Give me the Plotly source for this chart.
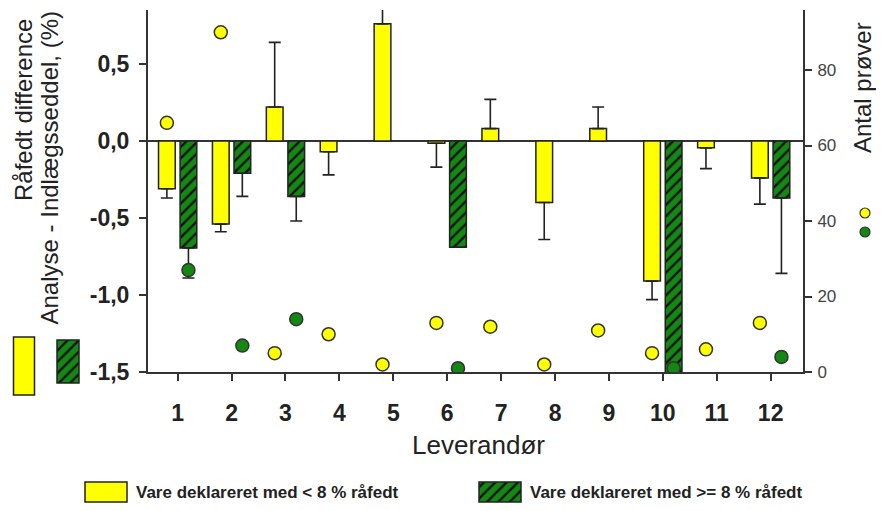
import plotly.graph_objects as go

# ---------------- data ----------------
leverandor = [1, 2, 3, 4, 5, 6, 7, 8, 9, 10, 11, 12]
tick_labels = ["1", "2", "3", "4", "5", "6", "7", "8", "9", "10", "11", "12"]

# Råfedt difference (Analyse - Indlægsseddel), %
diff_lav = [-0.31, -0.54, 0.22, -0.07, 0.76, -0.015, 0.08, -0.40, 0.08, -0.91, -0.045, -0.24]
err_lav = [0.06, 0.05, 0.42, 0.15, 0.25, 0.155, 0.19, 0.24, 0.14, 0.12, 0.135, 0.17]
diff_hoj = [-0.695, -0.21, -0.36, None, None, -0.69, None, None, None, -1.6, None, -0.37]
err_hoj = [0.195, 0.15, 0.16, None, None, 0.0, None, None, None, 0.0, None, 0.49]

# Antal prøver
n_lav = [66, 90, 5, 10, 2, 13, 12, 2, 11, 5, 6, 13]
n_hoj = [27, 7, 14, None, None, 1, None, None, None, 1, None, 4]

yticks_left = [-1.5, -1.0, -0.5, 0.0, 0.5]
yticks_left_text = ["-1,5", "-1,0", "-0,5", "0,0", "0,5"]
yticks_right = [0, 20, 40, 60, 80]

name_lav = "Vare deklareret med < 8 % råfedt"
name_hoj = "Vare deklareret med >= 8 % råfedt"

# ---------------- style ----------------
PAGE_W, PAGE_H = 884, 511
BODY_MARGIN = 8                      # default <body> margin of the html page
W, H = PAGE_W - 2 * BODY_MARGIN, PAGE_H - 2 * BODY_MARGIN


def clamp(v):
    return max(0.0, min(1.0, v))


def px(x):   # page pixel x -> paper fraction
    return (x - BODY_MARGIN) / W


def py(y):   # page pixel y -> paper fraction
    return 1 - (y - BODY_MARGIN) / H


YELLOW = "#FFFF00"
GREEN = "#138913"
EDGE = "#222222"
HATCH = "#111111"
FONT = "Liberation Sans, Arial, sans-serif"
OFFS = 0.2  # half distance between grouped bar centers (category units)


def up_down(vals, errs):
    up, down = [], []
    for v, e in zip(vals, errs):
        if v is None or e is None:
            up.append(None); down.append(None)
        elif v >= 0:
            up.append(e); down.append(0)
        else:
            up.append(0); down.append(e)
    return up, down


lav_up, lav_down = up_down(diff_lav, err_lav)
hoj_up, hoj_down = up_down(diff_hoj, err_hoj)

hatch = dict(shape="/", fgcolor=HATCH, bgcolor=GREEN, size=8, solidity=0.3, fillmode="replace")

fig = go.Figure()

fig.add_trace(go.Bar(
    x=leverandor, y=diff_lav, name=name_lav,
    marker=dict(color=YELLOW, line=dict(color=EDGE, width=1.5)),
    error_y=dict(type="data", symmetric=False, array=lav_up, arrayminus=lav_down,
                 color=EDGE, thickness=1.6, width=6),
    xaxis="x", yaxis="y", showlegend=False,
))
fig.add_trace(go.Bar(
    x=leverandor, y=diff_hoj, name=name_hoj,
    marker=dict(color=GREEN, line=dict(color=EDGE, width=1.5), pattern=hatch),
    error_y=dict(type="data", symmetric=False, array=hoj_up, arrayminus=hoj_down,
                 color=EDGE, thickness=1.6, width=6),
    xaxis="x", yaxis="y", showlegend=False,
))

fig.add_trace(go.Scatter(
    x=[v - OFFS for v in leverandor], y=n_lav, mode="markers",
    marker=dict(color=YELLOW, size=13, line=dict(color="#333333", width=1.5)),
    xaxis="x", yaxis="y2", showlegend=False,
))
fig.add_trace(go.Scatter(
    x=[v + OFFS for v in leverandor], y=n_hoj, mode="markers",
    marker=dict(color=GREEN, size=13, line=dict(color="#333333", width=1.5)),
    xaxis="x", yaxis="y2", showlegend=False,
))

# legend keys (left, beside the y title), helper axes in page-pixel units
fig.add_trace(go.Bar(
    x=[24], y=[58], base=[5], width=[21],
    marker=dict(color=YELLOW, line=dict(color=EDGE, width=1.5)),
    xaxis="x3", yaxis="y3", showlegend=False, hoverinfo="skip", offsetgroup="k1",
))
fig.add_trace(go.Bar(
    x=[68], y=[43], base=[17], width=[22],
    marker=dict(color=GREEN, line=dict(color=EDGE, width=1.5), pattern=hatch),
    xaxis="x3", yaxis="y3", showlegend=False, hoverinfo="skip", offsetgroup="k1",
))
# legend keys (bottom)
fig.add_trace(go.Bar(
    x=[106], y=[20], base=[1], width=[42],
    marker=dict(color=YELLOW, line=dict(color=EDGE, width=1.5)),
    xaxis="x4", yaxis="y4", showlegend=False, hoverinfo="skip", offsetgroup="k2",
))
fig.add_trace(go.Bar(
    x=[500], y=[20], base=[1], width=[42],
    marker=dict(color=GREEN, line=dict(color=EDGE, width=1.5), pattern=hatch),
    xaxis="x4", yaxis="y4", showlegend=False, hoverinfo="skip", offsetgroup="k2",
))

hidden = dict(visible=False, showgrid=False, zeroline=False, fixedrange=True, automargin=False)

fig.update_layout(
    width=W, height=H,
    margin=dict(l=0, r=0, t=0, b=0, autoexpand=False),
    paper_bgcolor="white", plot_bgcolor="white",
    barmode="group", bargap=0.2, bargroupgap=0.225,
    showlegend=False,
    font=dict(family=FONT, color="#222222"),
    xaxis=dict(
        domain=[clamp(px(148)), clamp(px(803))], range=[0.45, 12.6], automargin=False,
        tickvals=leverandor, ticktext=tick_labels,
        tickfont=dict(family=FONT, size=23, color="#222222", weight="bold"),
        ticks="outside", ticklen=7, tickwidth=2, tickcolor="#333333",
        ticklabelstandoff=12,
        showline=True, linecolor="#333333", linewidth=2,
        showgrid=False, zeroline=False,
    ),
    yaxis=dict(
        domain=[clamp(py(372)), clamp(py(10))], range=[-1.5, 0.85], automargin=False,
        tickvals=yticks_left, ticktext=yticks_left_text,
        tickfont=dict(family=FONT, size=23, color="#222222", weight="bold"),
        ticks="outside", ticklen=7, tickwidth=2, tickcolor="#333333",
        ticklabelstandoff=5,
        showline=True, linecolor="#333333", linewidth=2,
        showgrid=False, zeroline=True, zerolinecolor="#333333", zerolinewidth=2,
    ),
    yaxis2=dict(
        overlaying="y", side="right", range=[0, 95.9], automargin=False,
        tickvals=yticks_right,
        tickfont=dict(family=FONT, size=17, color="#444444"),
        ticks="outside", ticklen=7, tickwidth=2, tickcolor="#333333",
        ticklabelstandoff=2,
        showline=True, linecolor="#333333", linewidth=2,
        showgrid=False, zeroline=False,
    ),
    xaxis3=dict(domain=[clamp(px(10)), clamp(px(84))], range=[10, 84], anchor="y3", **hidden),
    yaxis3=dict(domain=[clamp(py(400)), clamp(py(330))], range=[0, 70], anchor="x3", **hidden),
    xaxis4=dict(domain=[clamp(px(80)), clamp(px(530))], range=[80, 530], anchor="y4", **hidden),
    yaxis4=dict(domain=[clamp(py(503)), clamp(py(479))], range=[0, 24], anchor="x4", **hidden),
)

annots = [
    dict(text="Råfedt difference", x=px(23), y=py(203), xanchor="center", yanchor="bottom",
         textangle=-90, font=dict(size=24, color="#222222")),
    dict(text="Analyse - Indlægsseddel, (%)", x=px(49), y=py(327), xanchor="center", yanchor="bottom",
         textangle=-90, font=dict(size=24, color="#222222")),
    dict(text="Antal prøver", x=px(862), y=py(88), xanchor="center", yanchor="middle",
         textangle=-90, font=dict(size=24, color="#222222")),
    dict(text="Leverandør", x=px(478), y=py(445), xanchor="center", yanchor="middle",
         font=dict(size=26, color="#222222")),
    dict(text=name_lav, x=px(134), y=py(492), xanchor="left", yanchor="middle",
         font=dict(family=FONT, size=17, color="#222222", weight="bold")),
    dict(text=name_hoj, x=px(528), y=py(492), xanchor="left", yanchor="middle",
         font=dict(family=FONT, size=17, color="#222222", weight="bold")),
]
for a in annots:
    a.update(xref="paper", yref="paper", showarrow=False)
fig.update_layout(annotations=annots)

# small marker keys under "Antal prøver"
fig.add_shape(type="circle", xref="paper", yref="paper",
              x0=px(860), x1=px(870), y0=py(218), y1=py(208),
              fillcolor=YELLOW, line=dict(color="#333333", width=1.2))
fig.add_shape(type="circle", xref="paper", yref="paper",
              x0=px(860), x1=px(870), y0=py(237), y1=py(227),
              fillcolor=GREEN, line=dict(color="#333333", width=1.2))

fig.write_html("out.html")
